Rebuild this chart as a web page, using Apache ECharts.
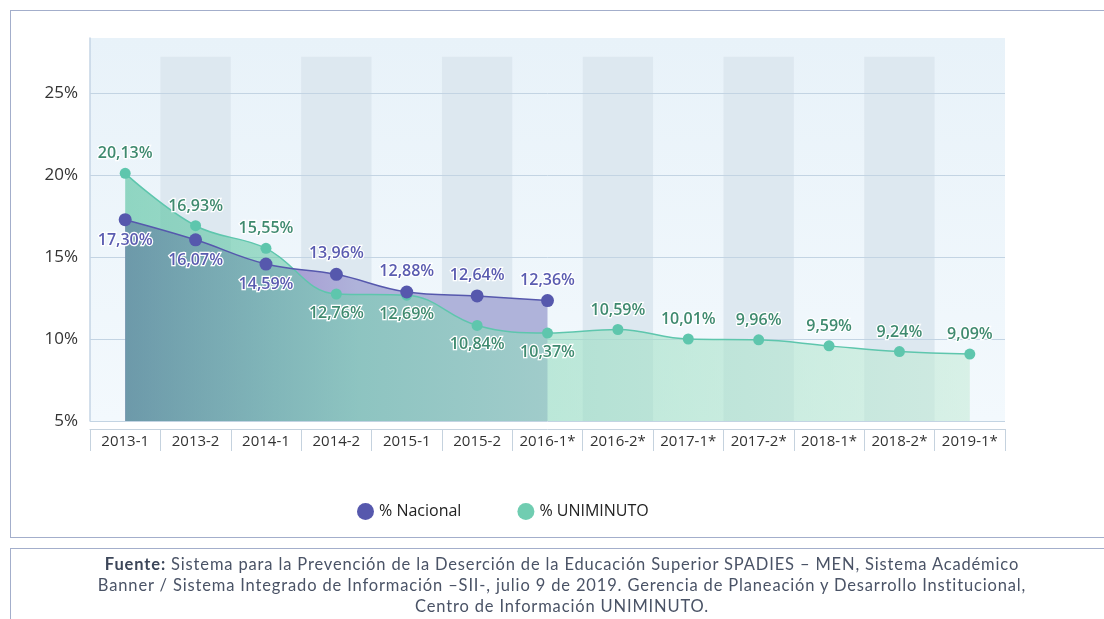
<!DOCTYPE html>
<html>
<head>
<meta charset="utf-8">
<script src="https://cdn.jsdelivr.net/npm/echarts@6/dist/echarts.min.js"></script>
<style>
  html, body { margin: 0; padding: 0; background: #fff; }
  #wrap { position: relative; width: 1104px; height: 619px; overflow: hidden; }
  .box { position: absolute; left: 10px; border: 1.5px solid #a3aecb; box-sizing: border-box; width: 1120px; }
  #frame { top: 10px; height: 528px; }
  #sourceBox { top: 548px; height: 100px; }
  #chart { position: absolute; left: 0; top: 0; width: 1104px; height: 619px; }
  #source {
    position: absolute; left: 0; top: 554px; width: 1124px;
    text-align: center; font-family: Lato, 'Open Sans', sans-serif;
    font-size: 16.5px; letter-spacing: 0.85px; line-height: 21px; color: #4a5366;
  }
  #source b { color: #3c4659; }
</style>
</head>
<body>
<div id="wrap">
  <div id="frame" class="box"></div>
  <div id="sourceBox" class="box"></div>
  <div id="chart"></div>
  <div id="source">
    <b>Fuente:</b> Sistema para la Prevención de la Deserción de la Educación Superior SPADIES – MEN, Sistema Académico<br>
    Banner / Sistema Integrado de Información –SII-, julio 9 de 2019. Gerencia de Planeación y Desarrollo Institucional,<br>
    Centro de Información UNIMINUTO.
  </div>
</div>
<script>
const categories = ['2013-1', '2013-2', '2014-1', '2014-2', '2015-1', '2015-2', '2016-1*',
  '2016-2*', '2017-1*', '2017-2*', '2018-1*', '2018-2*', '2019-1*']
const nacional = [17.30, 16.07, 14.59, 13.96, 12.88, 12.64, 12.36]
const uniminuto = [20.13, 16.93, 15.55, 12.76, 12.69, 10.84, 10.37, 10.59, 10.01, 9.96, 9.59, 9.24, 9.09]
const nacionalLabelPos = ['bottom', 'bottom', 'bottom', 'top', 'top', 'top', 'top']
const uniminutoLabelPos = ['top', 'top', 'top', 'bottom', 'bottom', 'bottom', 'bottom',
  'top', 'top', 'top', 'top', 'top', 'top']
const shadedColumns = ['2013-2', '2014-2', '2015-2', '2016-2*', '2017-2*', '2018-2*']

const NAC_COLOR = '#5658ad'
const UNI_COLOR = '#5ec6ad'
const bandTop = 27.26

const fmt = (v) => v.toFixed(2).replace('.', ',') + '%'

const chart = echarts.init(document.getElementById('chart'))

const labelBase = {
  show: true,
  fontFamily: 'Open Sans',
  fontSize: 16,
  fontWeight: 600,
  textBorderColor: '#fff',
  textBorderWidth: 2.5,
  distance: 6,
  formatter: (p) => fmt(p.value),
}

chart.setOption({
  animation: false,
  grid: {
    left: 90,
    right: 99,
    top: 38,
    bottom: 198,
    show: true,
    z: -5,
    borderWidth: 0,
    backgroundColor: new echarts.graphic.LinearGradient(0, 0, 0, 1, [
      { offset: 0, color: '#e8f2f9' },
      { offset: 1, color: '#f3f9fd' },
    ]),
  },
  legend: {
    left: 352,
    top: 498,
    icon: 'circle',
    itemWidth: 17,
    itemHeight: 17,
    itemGap: 56,
    textStyle: { fontFamily: 'Open Sans', fontSize: 16, color: '#222' },
    data: [
      { name: '% Nacional', itemStyle: { color: NAC_COLOR } },
      { name: '% UNIMINUTO', itemStyle: { color: '#70cdb1' } },
    ],
  },
  xAxis: {
    type: 'category',
    data: categories,
    boundaryGap: true,
    offset: 8,
    axisLine: { lineStyle: { color: '#c5d2de', width: 1 } },
    axisTick: { show: true, length: 22, interval: 0, lineStyle: { color: '#c5d2de' } },
    axisLabel: { interval: 0, margin: 5, fontFamily: 'Open Sans', fontSize: 15, color: '#333' },
    splitLine: { show: false },
  },
  yAxis: {
    type: 'value',
    min: 5,
    max: 28.4,
    interval: 5,
    axisLine: { show: true, lineStyle: { color: '#c5d5e5', width: 1.5 } },
    axisTick: { show: false },
    axisLabel: {
      formatter: '{value}%',
      showMaxLabel: false,
      margin: 12,
      fontFamily: 'Open Sans',
      fontSize: 17,
      color: '#333',
    },
    splitLine: { show: true, showMaxLine: false, lineStyle: { color: '#c3d4e3', width: 1 } },
  },
  series: [
    {
      type: 'bar',
      silent: true,
      z: -2,
      barCategoryGap: '0%',
      itemStyle: { color: '#dde8f0' },
      data: categories.map((c) => (shadedColumns.includes(c) ? bandTop : '-')),
    },
    {
      name: '% Nacional',
      type: 'line',
      z: 4,
      smooth: 0.4,
      data: nacional.map((v, i) => ({ value: v, label: { position: nacionalLabelPos[i] } })),
      symbol: 'circle',
      symbolSize: 13,
      itemStyle: { color: NAC_COLOR },
      lineStyle: { color: NAC_COLOR, width: 1.5 },
      label: { ...labelBase, color: '#5a5cb0' },
    },
    {
      name: '% UNIMINUTO',
      type: 'line',
      z: 3,
      smooth: 0.4,
      data: uniminuto.map((v, i) => ({ value: v, label: { position: uniminutoLabelPos[i] } })),
      symbol: 'circle',
      symbolSize: 11,
      itemStyle: { color: UNI_COLOR },
      lineStyle: { color: UNI_COLOR, width: 1.5 },
      label: { ...labelBase, color: '#3f8a6f' },
      areaStyle: {
        opacity: 0.6,
        color: new echarts.graphic.LinearGradient(0, 0, 1, 0, [
          { offset: 0, color: 'rgb(81,192,156)' },
          { offset: 0.5, color: 'rgb(150,220,192)' },
          { offset: 1, color: 'rgb(198,235,216)' },
        ]),
      },
    },
    {
      name: '% Nacional',
      type: 'line',
      z: 2,
      smooth: 0.4,
      data: nacional,
      symbol: 'none',
      itemStyle: { color: NAC_COLOR },
      lineStyle: { width: 0 },
      areaStyle: {
        opacity: 1,
        color: new echarts.graphic.LinearGradient(0, 0, 1, 0, [
          { offset: 0, color: 'rgb(150,95,190)' },
          { offset: 0.35, color: 'rgb(165,152,210)' },
          { offset: 0.55, color: 'rgb(175,179,218)' },
          { offset: 1, color: 'rgb(175,179,218)' },
        ]),
      },
    },
  ],
})
</script>
</body>
</html>
